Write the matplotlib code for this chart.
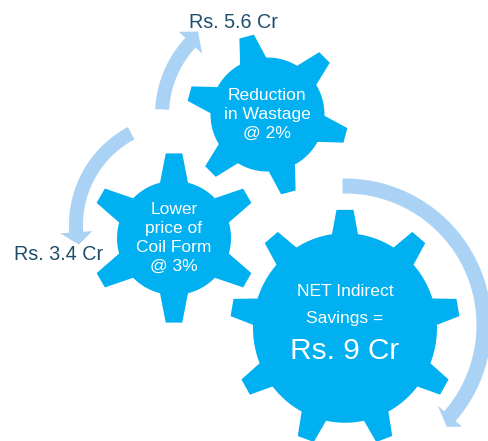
import numpy as np
import matplotlib
matplotlib.use("Agg")
import matplotlib.pyplot as plt
from matplotlib.patches import Polygon

W, H = 488, 441
GEAR = "#00B0F0"
ARROW = "#A9D2F5"
DARK = "#1F4E6B"

# gears: centre x, centre y, body radius, tip radius, teeth, first tooth angle, base width, tip width, y stretch
gear_cx = [267.5, 174, 345]
gear_cy = [114.5, 238, 328]
gear_body = [57, 57, 92]
gear_tip = [81, 85, 115]
gear_teeth = [6, 6, 9]
gear_start = [105, 90, 90]
gear_base_w = [27, 28, 26]
gear_tip_w = [15, 16.5, 17]
gear_sy = [1.0, 1.0, 1.03]

# arrows: centre, band radius, band width, start angle, neck angle, tip angle, tip radius, head half width
arrow_cx = [268, 180, 345]
arrow_cy = [115, 225, 325]
arrow_r = [106, 104, 139]
arrow_w = [14, 14, 15]
arrow_from = [177, 118, 91]
arrow_neck = [137, 184, -41]
arrow_tip = [130, 191, -45]
arrow_tip_r = [109, 103, 144]
arrow_head = [16, 16, 16]

labels_dark = ["Rs. 5.6 Cr", "Rs. 3.4 Cr"]
labels_dark_x = [233.5, 59]
labels_dark_y = [22, 254]

top_lines = ["Reduction", "in Wastage", "@ 2%"]
top_y = [95, 114, 133.5]
left_lines = ["Lower", "price of", "Coil Form", "@ 3%"]
left_y = [209, 229, 247.5, 266]
big_lines = ["NET Indirect", "Savings =", "Rs. 9 Cr"]
big_y = [292, 319, 351]
big_size = [12.6, 12.6, 21.4]


def gear_outline(cx, cy, body, tip, n, start, base_w, tip_w, sy):
    pts = []
    half_base = np.degrees(np.arcsin(base_w / 2 / body))
    half_tip = np.degrees(np.arcsin(tip_w / 2 / tip))
    step = 360 / n
    for k in range(n):
        a = start - k * step
        # tooth, going clockwise round the wheel
        pts.append((body, a + half_base))
        pts.append((tip, a + half_tip))
        pts.append((tip, a - half_tip))
        pts.append((body, a - half_base))
        for t in np.linspace(a - half_base, a - step + half_base, 16)[1:-1]:
            pts.append((body, t))
    return [(cx + r * np.cos(np.radians(t)), cy - sy * r * np.sin(np.radians(t))) for r, t in pts]


def arrow_outline(cx, cy, r, w, a0, a1, a2, tip_r, head):
    ang = np.linspace(a0, a1, 50)
    outer = [(r + w / 2, t) for t in ang]
    inner = [(r - w / 2, t) for t in ang[::-1]]
    pts = outer + [(r + head, a1), (tip_r, a2), (r - head, a1)] + inner
    return [(cx + q * np.cos(np.radians(t)), cy - q * np.sin(np.radians(t))) for q, t in pts]


plt.rcParams["font.family"] = ["Liberation Sans"]
fig = plt.figure(figsize=(W / 100, H / 100), dpi=100, facecolor="white")
ax = fig.add_axes([0, 0, 1, 1])
ax.set_xlim(0, W)
ax.set_ylim(H, 0)
ax.axis("off")

for i in range(3):
    ax.add_patch(Polygon(arrow_outline(arrow_cx[i], arrow_cy[i], arrow_r[i], arrow_w[i], arrow_from[i],
                                       arrow_neck[i], arrow_tip[i], arrow_tip_r[i], arrow_head[i]),
                         closed=True, fc=ARROW, ec="none"))

for i in range(3):
    ax.add_patch(Polygon(gear_outline(gear_cx[i], gear_cy[i], gear_body[i], gear_tip[i], gear_teeth[i],
                                      gear_start[i], gear_base_w[i], gear_tip_w[i], gear_sy[i]),
                         closed=True, fc=GEAR, ec="none"))

for s, x, y in zip(labels_dark, labels_dark_x, labels_dark_y):
    ax.text(x, y, s, color=DARK, fontsize=14.2, ha="center", va="center")

for s, y in zip(top_lines, top_y):
    ax.text(267, y, s, color="white", fontsize=12.6, ha="center", va="center")
for s, y in zip(left_lines, left_y):
    ax.text(174, y, s, color="white", fontsize=12.5, ha="center", va="center")
for s, y, fs in zip(big_lines, big_y, big_size):
    ax.text(345, y, s, color="white", fontsize=fs, ha="center", va="center")

fig.savefig("out.png", dpi=100, facecolor="white")
